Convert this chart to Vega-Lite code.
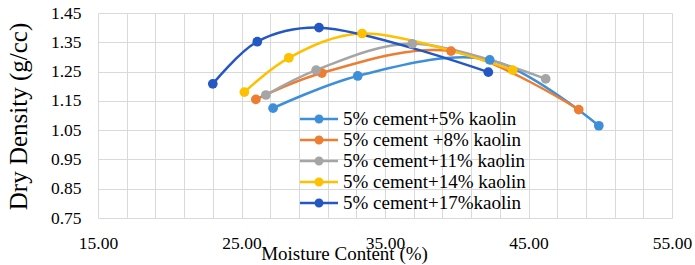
{
  "$schema": "https://vega.github.io/schema/vega-lite/v6.json",
  "width": 574,
  "height": 205,
  "autosize": "none",
  "padding": {"left": 98, "top": 13, "right": 23, "bottom": 47},
  "background": "white",
  "config": {
    "font": "Liberation Serif",
    "view": {"stroke": null},
    "axis": {"labelFont": "Liberation Serif", "titleFont": "Liberation Serif"},
    "legend": {"labelFont": "Liberation Serif"}
  },
  "data": {
    "values": [
      {"series": "5% cement+5% kaolin", "mc": 27.2, "dd": 1.125},
      {"series": "5% cement+5% kaolin", "mc": 33.1, "dd": 1.235},
      {"series": "5% cement+5% kaolin", "mc": 42.3, "dd": 1.29},
      {"series": "5% cement+5% kaolin", "mc": 49.9, "dd": 1.065},
      {"series": "5% cement +8% kaolin", "mc": 26.0, "dd": 1.155},
      {"series": "5% cement +8% kaolin", "mc": 30.6, "dd": 1.245},
      {"series": "5% cement +8% kaolin", "mc": 39.6, "dd": 1.32},
      {"series": "5% cement +8% kaolin", "mc": 48.5, "dd": 1.12},
      {"series": "5% cement+11% kaolin", "mc": 26.7, "dd": 1.17},
      {"series": "5% cement+11% kaolin", "mc": 30.2, "dd": 1.255},
      {"series": "5% cement+11% kaolin", "mc": 36.9, "dd": 1.345},
      {"series": "5% cement+11% kaolin", "mc": 46.2, "dd": 1.225},
      {"series": "5% cement+14% kaolin", "mc": 25.2, "dd": 1.18},
      {"series": "5% cement+14% kaolin", "mc": 28.3, "dd": 1.297},
      {"series": "5% cement+14% kaolin", "mc": 33.4, "dd": 1.38},
      {"series": "5% cement+14% kaolin", "mc": 43.9, "dd": 1.255},
      {"series": "5% cement+17%kaolin", "mc": 23.0, "dd": 1.208},
      {"series": "5% cement+17%kaolin", "mc": 26.1, "dd": 1.352},
      {"series": "5% cement+17%kaolin", "mc": 30.4, "dd": 1.40},
      {"series": "5% cement+17%kaolin", "mc": 42.2, "dd": 1.248}
    ]
  },
  "mark": {
    "type": "line",
    "interpolate": "catmull-rom",
    "strokeWidth": 2.5,
    "point": {"filled": true, "size": 95, "opacity": 1}
  },
  "encoding": {
    "x": {
      "field": "mc",
      "type": "quantitative",
      "scale": {"domain": [15, 55], "nice": false, "zero": false},
      "axis": {
        "values": [15,17,19,21,23,25,27,29,31,33,35,37,39,41,43,45,47,49,51,53,55],
        "labelExpr": "datum.value % 10 == 5 ? format(datum.value, '.2f') : ''",
        "domain": false,
        "ticks": false,
        "grid": true,
        "gridColor": "#d9d9d9",
        "gridWidth": 1,
        "labelFont": "Liberation Serif",
        "labelFontSize": 17.5,
        "labelColor": "#000000",
        "labelPadding": 16,
        "labelFlush": false,
        "labelOverlap": false,
        "title": "Moisture Content (%)",
        "titleFontSize": 19,
        "titleFontWeight": "normal",
        "titleColor": "#000000",
        "titleX": 246,
        "titleY": 41,
        "titleAlign": "center",
        "titleBaseline": "alphabetic"
      }
    },
    "y": {
      "field": "dd",
      "type": "quantitative",
      "scale": {"domain": [0.75, 1.45], "nice": false, "zero": false},
      "axis": {
        "values": [0.75,0.85,0.95,1.05,1.15,1.25,1.35,1.45],
        "format": ".2f",
        "domain": false,
        "ticks": false,
        "grid": true,
        "gridColor": "#d9d9d9",
        "gridWidth": 1,
        "labelFont": "Liberation Serif",
        "labelFontSize": 17.5,
        "labelColor": "#000000",
        "labelPadding": 17,
        "labelFlush": false,
        "labelOverlap": false,
        "title": "Dry Density (g/cc)",
        "titleFontSize": 25,
        "titleFontWeight": "normal",
        "titleColor": "#000000",
        "titleX": -80,
        "titleY": 103,
        "titleAngle": -90,
        "titleAlign": "center",
        "titleBaseline": "middle"
      }
    },
    "color": {
      "field": "series",
      "type": "nominal",
      "sort": ["5% cement+5% kaolin", "5% cement +8% kaolin", "5% cement+11% kaolin", "5% cement+14% kaolin", "5% cement+17%kaolin"],
      "scale": {
        "domain": ["5% cement+5% kaolin", "5% cement +8% kaolin", "5% cement+11% kaolin", "5% cement+14% kaolin", "5% cement+17%kaolin"],
        "range": ["#3d8fd9", "#ed7d31", "#a5a5a5", "#ffc000", "#2456c4"]
      },
      "legend": {
        "title": null,
        "orient": "none",
        "legendX": 211,
        "legendY": 96,
        "padding": 0,
        "symbolType": "M-1.9,-0.125L1.9,-0.125L1.9,0.125L-1.9,0.125Z M0.45,0 A0.45,0.45 0 1,1 -0.45,0 A0.45,0.45 0 1,1 0.45,0Z",
        "symbolSize": 400,
        "symbolStrokeWidth": 0,
        "symbolOpacity": 1,
        "labelFont": "Liberation Serif",
        "labelFontSize": 19,
        "labelColor": "#000000",
        "labelOffset": 14,
        "rowPadding": 1,
        "labelLimit": 300,
        "encode": {
          "symbols": {
            "update": {
              "fill": {"scale": "color", "field": "value"},
              "strokeWidth": {"value": 0}
            }
          },
          "labels": {
            "update": {
              "font": {"value": "Liberation Serif"}
            }
          }
        }
      }
    }
  }
}
